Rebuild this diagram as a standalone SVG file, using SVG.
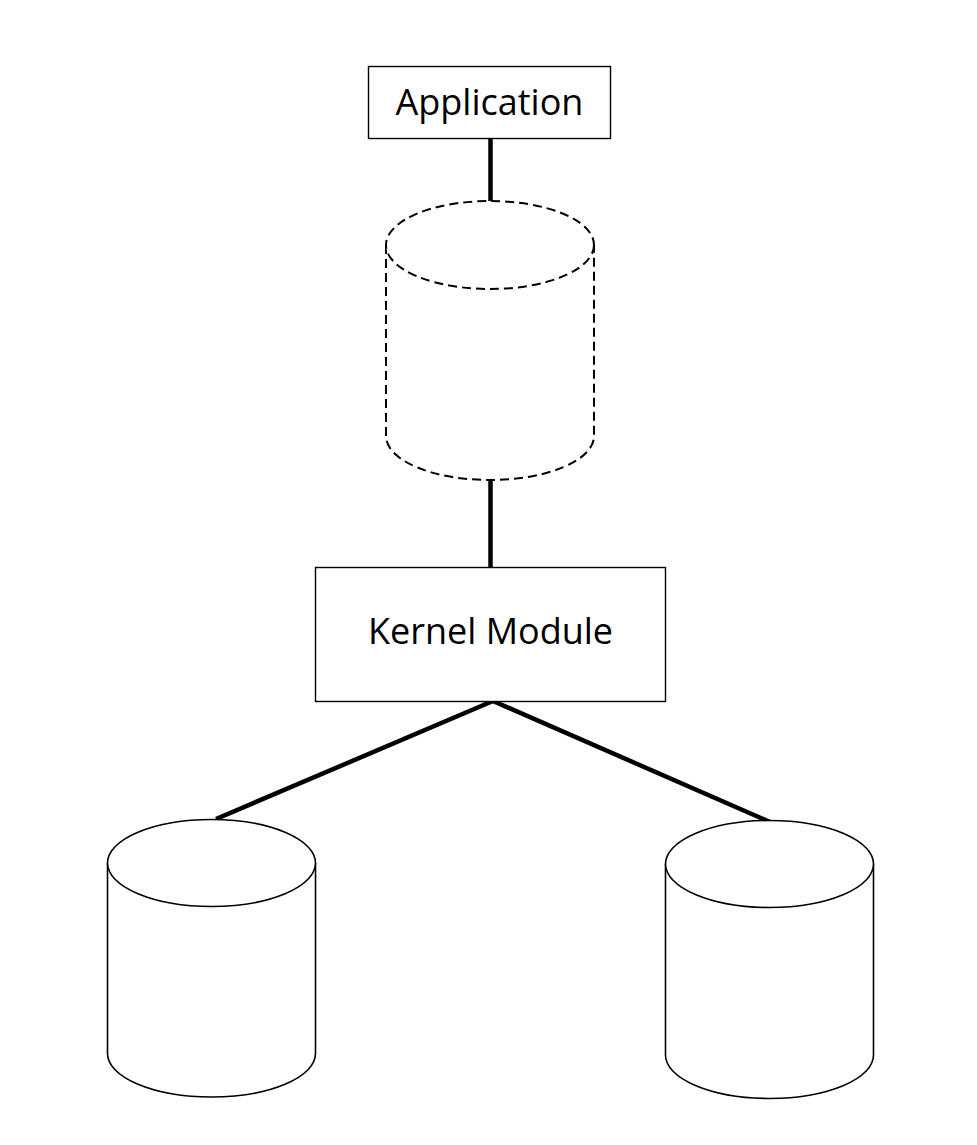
<svg xmlns="http://www.w3.org/2000/svg" width="977" height="1145" viewBox="0 0 977 1145">
  <style>
    .box { fill: #ffffff; stroke: #000000; stroke-width: 1.4; }
    .cyl { fill: #ffffff; stroke: #000000; stroke-width: 1.6; }
    .dashed { stroke-dasharray: 9 5; stroke-width: 2; }
    .label { font-family: "Open Sans", "Liberation Sans", sans-serif; font-size: 36px; fill: #000000; text-anchor: middle; }
    .link { stroke: #000000; stroke-width: 4.5; fill: none; }
  </style>
  <rect width="977" height="1145" fill="#ffffff"/>

  <g id="connectors">
    <line class="link" x1="490.5" y1="139" x2="490.5" y2="201"/>
    <line class="link" x1="490.5" y1="480" x2="490.5" y2="567"/>
    <line class="link" x1="493" y1="701" x2="216" y2="819"/>
    <line class="link" x1="493" y1="701" x2="770" y2="822"/>
  </g>

  <g id="application">
    <rect class="box" x="368.5" y="66.5" width="242" height="72"/>
    <text class="label" x="489.5" y="115">Application</text>
  </g>

  <g id="buffer">
    <path class="cyl dashed" d="M386,245 L386,436 A104,44 0 0 0 594,436 L594,245"/>
    <ellipse class="cyl dashed" cx="490" cy="245" rx="104" ry="44"/>
  </g>

  <g id="kernel-module">
    <rect class="box" x="315.5" y="567.5" width="350" height="134"/>
    <text class="label" x="490.5" y="644">Kernel Module</text>
  </g>

  <g id="storage-left">
    <path class="cyl" d="M107.5,863 L107.5,1053.5 A104,43.5 0 0 0 315.5,1053.5 L315.5,863"/>
    <ellipse class="cyl" cx="211.5" cy="863" rx="104" ry="43.5"/>
  </g>

  <g id="storage-right">
    <path class="cyl" d="M665.5,864 L665.5,1055 A104,43.5 0 0 0 873.5,1055 L873.5,864"/>
    <ellipse class="cyl" cx="769.5" cy="864" rx="104" ry="43.5"/>
  </g>
</svg>
